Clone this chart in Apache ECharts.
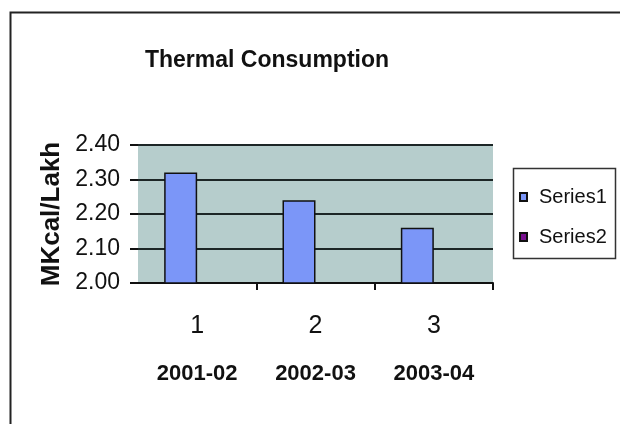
<!DOCTYPE html>
<html>
<head>
<meta charset="utf-8">
<script src="https://cdn.jsdelivr.net/npm/echarts@6/dist/echarts.min.js"></script>
<style>
html,body{margin:0;padding:0;background:#fff;}
#chart{width:620px;height:424px;}
</style>
</head>
<body>
<div id="chart"></div>
<script>
const categories = ['1', '2', '3'];
const periods = ['2001-02', '2002-03', '2003-04'];
const series1 = [2.32, 2.24, 2.16];
const series2 = [null, null, null];
const yTicks = [2.00, 2.10, 2.20, 2.30, 2.40];

const FONT = "'Liberation Sans', Arial, sans-serif";
const chart = echarts.init(document.getElementById('chart'), null, {renderer: 'canvas'});
chart.setOption({
  backgroundColor: '#ffffff',
  animation: false,
  title: {
    text: 'Thermal Consumption',
    left: 267, top: 49, padding: 0, textAlign: 'center',
    textStyle: {fontFamily: FONT, fontSize: 23, fontWeight: 'bold', color: '#111'}
  },
  graphic: [
    {type: 'rect', shape: {x: 10.5, y: 12.5, width: 700, height: 500}, style: {fill: 'none', stroke: '#222', lineWidth: 2}, z: 100},
    {type: 'rect', shape: {x: 513.5, y: 168.5, width: 102, height: 90}, style: {fill: '#fff', stroke: '#333', lineWidth: 1.5}, z: 0}
  ],
  legend: {
    orient: 'vertical', left: 513, top: 168,
    padding: [19, 4, 10, 6], itemGap: 20,
    itemWidth: 7, itemHeight: 8, icon: 'rect',
    textStyle: {fontFamily: FONT, fontSize: 20, color: '#111', padding: [0, 0, 0, 7]},
    data: ['Series1', 'Series2']
  },
  grid: {left: 138, right: 127, top: 145, bottom: 141, show: true, backgroundColor: '#b6cdcc', borderWidth: 0},
  xAxis: {
    type: 'category', data: categories,
    axisLine: {lineStyle: {color: '#111', width: 2}},
    axisTick: {show: true, length: 7, interval: function (i) { return i > 0; }, lineStyle: {color: '#111', width: 2}},
    axisLabel: {
      margin: 10, interval: 0,
      formatter: function (v, i) { return '{a|' + v + '}\n{b|' + periods[i] + '}'; },
      rich: {
        a: {fontFamily: FONT, fontSize: 25, lineHeight: 66, color: '#111'},
        b: {fontFamily: FONT, fontSize: 22, fontWeight: 'bold', lineHeight: 30, color: '#111'}
      }
    }
  },
  yAxis: {
    type: 'value', min: yTicks[0], max: yTicks[yTicks.length - 1], interval: 0.1,
    name: 'MKcal/Lakh', nameLocation: 'middle', nameRotate: 90, nameGap: 57,
    nameTextStyle: {fontFamily: FONT, fontSize: 26, fontWeight: 'bold', color: '#111'},
    axisLine: {show: false},
    axisTick: {show: true, length: 8, lineStyle: {color: '#111', width: 2}},
    axisLabel: {margin: 18, fontFamily: FONT, fontSize: 23, color: '#111', formatter: v => v.toFixed(2)},
    splitLine: {show: true, lineStyle: {color: '#1c2626', width: 2}}
  },
  series: [
    {name: 'Series1', type: 'bar', data: series1, barWidth: 33, barGap: '0%',
     itemStyle: {color: '#7b96f8', borderColor: '#111', borderWidth: 1.5}},
    {name: 'Series2', type: 'bar', data: series2, barWidth: 33,
     itemStyle: {color: '#7a1090', borderColor: '#111', borderWidth: 1}}
  ]
});
</script>
</body>
</html>
